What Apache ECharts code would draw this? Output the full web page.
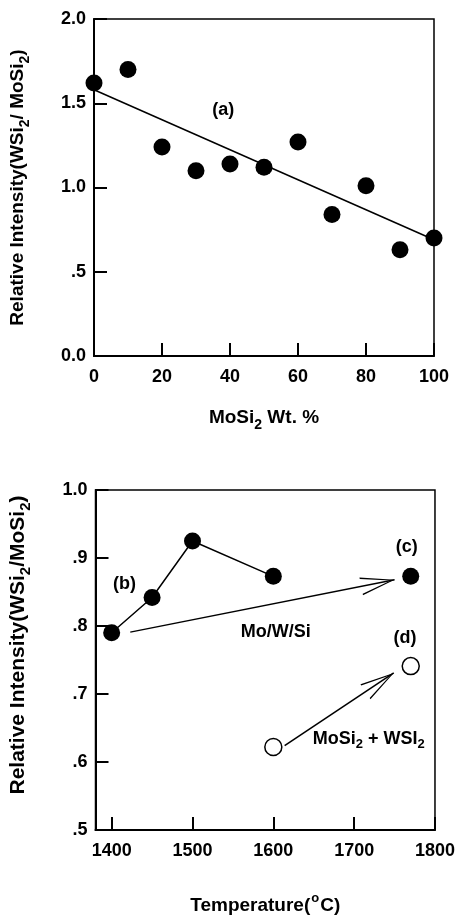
<!DOCTYPE html>
<html>
<head>
<meta charset="utf-8">
<script src="https://cdn.jsdelivr.net/npm/echarts@6/dist/echarts.min.js"></script>
<style>
html, body { margin: 0; padding: 0; background: #fff; }
#chart { width: 458px; height: 916px; }
</style>
</head>
<body>
<div id="chart"></div>
<script>
// (a) relative intensity vs MoSi2 content
var wtPercent = [0, 10, 20, 30, 40, 50, 60, 70, 80, 90, 100];
var intensityA = [1.62, 1.70, 1.24, 1.10, 1.14, 1.12, 1.27, 0.84, 1.01, 0.63, 0.70];
var fitLineA = [[0, 1.58], [100, 0.69]];
var noteA = [['(a)', 38, 1.46]];

// (b)(c)(d) relative intensity vs temperature
var tempB = [1400, 1450, 1500, 1600];
var intensityB = [0.79, 0.842, 0.925, 0.873];
var pointC = [[1770, 0.873]];
var openPoints = [[1600, 0.622], [1770, 0.741]];
var arrowMoWSi = [[1423, 0.791], [1750, 0.868]];
var arrowMix = [[1614, 0.624], [1749, 0.731]];
var notesB = [
  ['(b)', 1416, 0.862],
  ['(c)', 1765, 0.916],
  ['Mo/W/Si', 1603, 0.791],
  ['(d)', 1763, 0.782],
  ['MoSi{s|2} + WSI{s|2}', 1718, 0.634]
];
var tempTicks = [1400, 1500, 1600, 1700, 1800];

var FONT = '"Liberation Sans", Arial, sans-serif';
var chart = echarts.init(document.getElementById('chart'));

function fmtY(v) {
  if (v === 0) return '0.0';
  if (v < 1) return '.' + Math.round(v * 10);
  return v.toFixed(1);
}

function subRich(size, drop) {
  return { s: { fontSize: size, fontWeight: 'bold', fontFamily: FONT, color: '#000', verticalAlign: 'bottom', padding: [drop, 0, 0, 0] } };
}
var supRich = {
  o: { fontSize: 13, fontWeight: 'bold', fontFamily: FONT, color: '#000', verticalAlign: 'top', padding: [0, 1, 14, 1] }
};

function axisCommon() {
  return {
    axisLine: { lineStyle: { color: '#000', width: 2 } },
    axisTick: { show: true, inside: true, length: 13, lineStyle: { color: '#000', width: 2 } },
    axisLabel: { color: '#000', fontSize: 18, fontWeight: 'bold', fontFamily: FONT },
    splitLine: { show: false }
  };
}

var xA = axisCommon(), yA = axisCommon(), xB = axisCommon(), yB = axisCommon();

// open arrow head, tip placed at the centre of the symbol box
var arrowPath = 'path://M9,-34 L9,-34 M0,34 L9,0 L18,34 L16.6,34 L9,4 L1.4,34 Z';

function noteLabel(rich) {
  return {
    show: true, position: 'inside', color: '#000', opacity: 1, fontSize: 18, fontWeight: 'bold', fontFamily: FONT,
    formatter: function (p) { return p.data[0]; },
    rich: rich
  };
}

var option = {
  animation: false,
  backgroundColor: '#fff',
  grid: [
    { left: 94, top: 19, width: 340, height: 337, show: true, borderColor: '#000', borderWidth: 1.5 },
    { left: 95, top: 490, width: 340, height: 340, show: true, borderColor: '#000', borderWidth: 1.5 }
  ],
  xAxis: [
    Object.assign(xA, {
      gridIndex: 0, type: 'value', min: 0, max: 100, interval: 20,
      name: 'MoSi{s|2} Wt. %', nameLocation: 'middle', nameGap: 48,
      nameTextStyle: { color: '#000', fontSize: 19, fontWeight: 'bold', fontFamily: FONT, rich: subRich(14, 14) },
      axisLabel: Object.assign(xA.axisLabel, { margin: 12 })
    }),
    Object.assign(xB, {
      gridIndex: 1, type: 'value', min: 1380, max: 1800,
      name: 'Temperature({o|o}C)', nameLocation: 'middle', nameGap: 62,
      nameTextStyle: { color: '#000', fontSize: 19, fontWeight: 'bold', fontFamily: FONT, rich: supRich },
      axisLabel: Object.assign(xB.axisLabel, {
        margin: 12, customValues: tempTicks,
        formatter: function (v) { return String(v); }
      }),
      axisTick: Object.assign(xB.axisTick, { customValues: tempTicks })
    })
  ],
  yAxis: [
    Object.assign(yA, {
      gridIndex: 0, type: 'value', min: 0, max: 2, interval: 0.5,
      name: 'Relative Intensity(WSi{s|2}/ MoSi{s|2})', nameLocation: 'middle', nameGap: 62,
      nameTextStyle: { color: '#000', fontSize: 19, fontWeight: 'bold', fontFamily: FONT, rich: subRich(14, 14) },
      axisLabel: Object.assign(yA.axisLabel, { margin: 8, formatter: fmtY })
    }),
    Object.assign(yB, {
      gridIndex: 1, type: 'value', min: 0.5, max: 1.0, interval: 0.1,
      name: 'Relative Intensity(WSi{s|2}/MoSi{s|2})', nameLocation: 'middle', nameGap: 62,
      nameTextStyle: { color: '#000', fontSize: 21, fontWeight: 'bold', fontFamily: FONT, rich: subRich(15, 15), padding: [0, 0, 0, 30] },
      axisLabel: Object.assign(yB.axisLabel, { margin: 8, formatter: fmtY })
    })
  ],
  series: [
    {
      type: 'line', xAxisIndex: 0, yAxisIndex: 0, data: fitLineA, symbol: 'none',
      lineStyle: { color: '#000', width: 1.5 }, silent: true, z: 2
    },
    {
      type: 'scatter', xAxisIndex: 0, yAxisIndex: 0,
      data: wtPercent.map(function (x, i) { return [x, intensityA[i]]; }),
      symbolSize: 17, itemStyle: { color: '#000', opacity: 1 }, z: 3
    },
    {
      type: 'scatter', xAxisIndex: 0, yAxisIndex: 0, data: noteA.map(function (n) { return [n[0], n[1], n[2]]; }),
      encode: { x: 1, y: 2 }, symbolSize: 0, itemStyle: { color: '#000', opacity: 1 },
      label: noteLabel(subRich(13, 12)), silent: true, z: 4
    },
    {
      type: 'line', xAxisIndex: 1, yAxisIndex: 1,
      data: tempB.map(function (t, i) { return [t, intensityB[i]]; }),
      symbol: 'circle', symbolSize: 17, itemStyle: { color: '#000' },
      lineStyle: { color: '#000', width: 1.5 }, z: 3
    },
    {
      type: 'scatter', xAxisIndex: 1, yAxisIndex: 1, data: pointC,
      symbolSize: 17, itemStyle: { color: '#000', opacity: 1 }, z: 3
    },
    {
      type: 'scatter', xAxisIndex: 1, yAxisIndex: 1, data: openPoints,
      symbolSize: 17, itemStyle: { color: '#fff', borderColor: '#000', borderWidth: 1.5, opacity: 1 }, z: 3,
      markLine: {
        silent: true, animation: false,
        symbol: ['none', arrowPath], symbolSize: [18, 68],
        label: { show: false },
        lineStyle: { color: '#000', width: 1.5, type: 'solid', opacity: 1 },
        emphasis: { disabled: true },
        data: [
          [{ coord: arrowMoWSi[0] }, { coord: arrowMoWSi[1] }],
          [{ coord: arrowMix[0] }, { coord: arrowMix[1] }]
        ]
      }
    },
    {
      type: 'scatter', xAxisIndex: 1, yAxisIndex: 1, data: notesB.map(function (n) { return [n[0], n[1], n[2]]; }),
      encode: { x: 1, y: 2 }, symbolSize: 0, itemStyle: { color: '#000', opacity: 1 },
      label: noteLabel(subRich(13, 12)), silent: true, z: 4
    }
  ]
};

chart.setOption(option);
</script>
</body>
</html>
